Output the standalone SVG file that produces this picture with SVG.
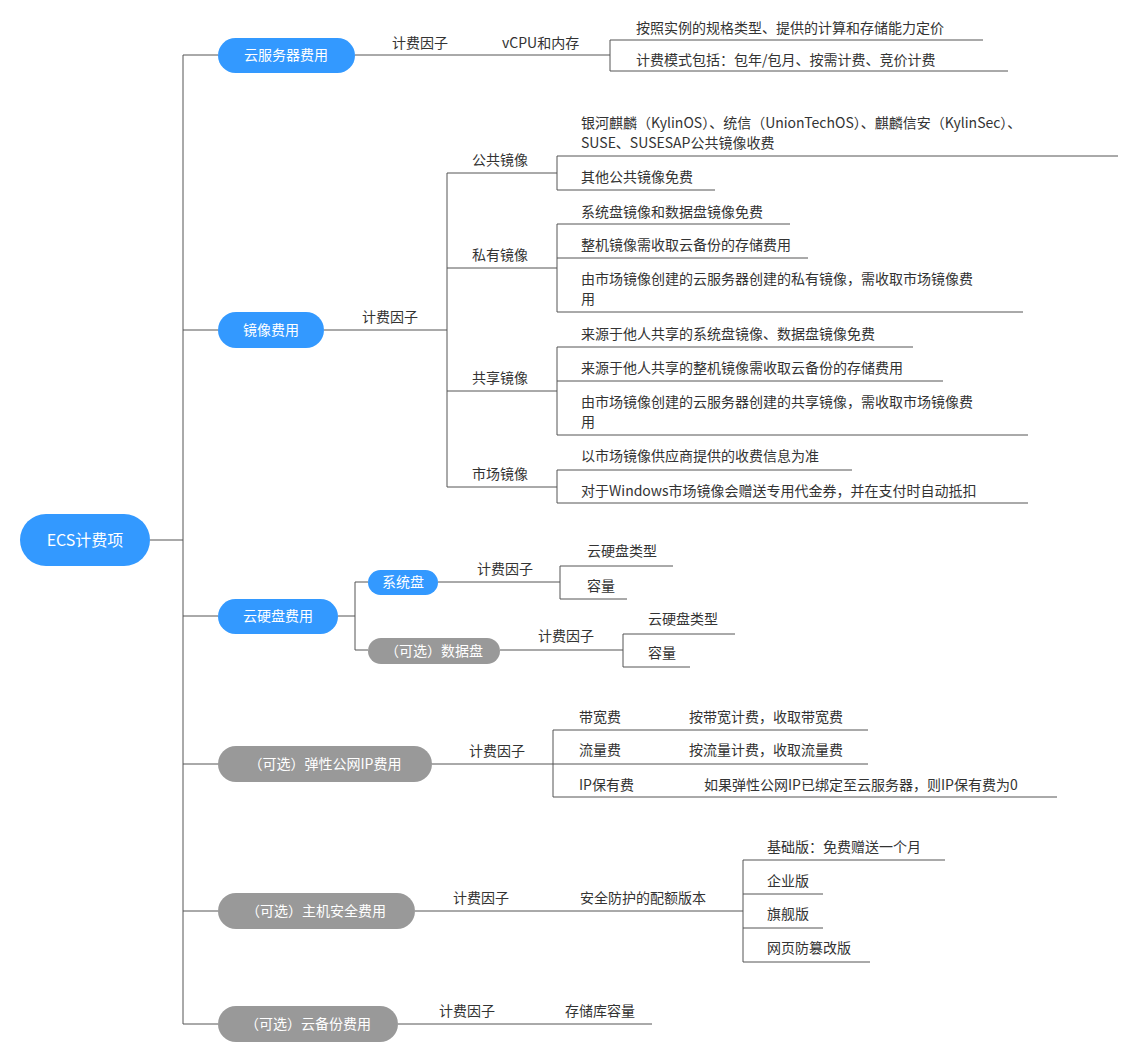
<svg xmlns="http://www.w3.org/2000/svg" width="1140" height="1058" viewBox="0 0 1140 1058">
<style>
text{font-family:"Noto Sans CJK SC","Liberation Sans",sans-serif;font-size:14px;fill:#333}
.p text{fill:#fff;text-anchor:middle}
.b{fill:#3399ff}.g{fill:#999}
.c path{fill:none;stroke:#555;stroke-width:1}
.t{fill:none;stroke:#444;stroke-width:3}
</style>
<rect width="1140" height="1058" fill="#fff"/>
<g class="c">
<path class="t" d="M183 55V1024M150 540H183M183 55H218M183 330H218M183 616H218M183 764H218M183 911H218M183 1024H218"/>
<path d="M355 55H610M610 40V71M610 40H983M610 71H1008"/>
<path d="M324 330H447M447 173V487M447 173H557M447 268H557M447 391H557M447 487H557"/>
<path d="M557 156V190M557 156H1118M557 190H715"/>
<path d="M557 224V312M557 224H790M557 258H808M557 312H1023"/>
<path d="M557 347V435M557 347H913M557 381H943M557 435H1028"/>
<path d="M557 470V503M557 470H852M557 503H1028"/>
<path d="M338 616H355M355 582V650M355 582H368M355 650H368"/>
<path d="M438 582H560M560 566V599M560 566H673M560 599H627"/>
<path d="M500 650H623M623 634V667M623 634H735M623 667H690"/>
<path d="M432 764H553M553 730V797M553 730H868M553 764H868M553 797H1057"/>
<path d="M415 911H743M743 860V962M743 860H945M743 894H823M743 928H823M743 962H870"/>
<path d="M398 1024H652"/>
</g>
<g id="root" class="p"><rect class="b" x="20" y="514" width="130" height="52" rx="26"/><text x="85" y="546" style="font-size:16px">ECS计费项</text></g>
<g id="n1" class="p"><rect class="b" x="218" y="38" width="137" height="35" rx="17.5"/><text x="286" y="60">云服务器费用</text></g>
<g id="n2" class="p"><rect class="b" x="218" y="312" width="106" height="36" rx="18"/><text x="271" y="335">镜像费用</text></g>
<g id="n3" class="p"><rect class="b" x="218" y="599" width="120" height="35" rx="17.5"/><text x="278" y="621">云硬盘费用</text></g>
<g id="n3a" class="p"><rect class="b" x="368" y="570" width="70" height="25" rx="12.5"/><text x="403" y="587">系统盘</text></g>
<g id="n3b" class="p"><rect class="g" x="368" y="638" width="132" height="26" rx="13"/><text x="434" y="656">（可选）数据盘</text></g>
<g id="n4" class="p"><rect class="g" x="218" y="746" width="214" height="36" rx="18"/><text x="325" y="769">（可选）弹性公网IP费用</text></g>
<g id="n5" class="p"><rect class="g" x="218" y="893" width="197" height="36" rx="18"/><text x="316" y="916">（可选）主机安全费用</text></g>
<g id="n6" class="p"><rect class="g" x="218" y="1006" width="180" height="36" rx="18"/><text x="308" y="1029">（可选）云备份费用</text></g>
<g id="labels">
<text x="392" y="48">计费因子</text><text x="502" y="48">vCPU和内存</text>
<text x="636" y="33">按照实例的规格类型、提供的计算和存储能力定价</text>
<text x="636" y="65">计费模式包括：包年/包月、按需计费、竞价计费</text>
<text x="362" y="322">计费因子</text>
<text x="472" y="165">公共镜像</text><text x="472" y="260">私有镜像</text><text x="472" y="383">共享镜像</text><text x="472" y="479">市场镜像</text>
<text x="581" y="128">银河麒麟（KylinOS）、统信（UnionTechOS）、麒麟信安（KylinSec）、</text>
<text x="581" y="148">SUSE、SUSESAP公共镜像收费</text>
<text x="581" y="182">其他公共镜像免费</text>
<text x="581" y="217">系统盘镜像和数据盘镜像免费</text>
<text x="581" y="250">整机镜像需收取云备份的存储费用</text>
<text x="581" y="284">由市场镜像创建的云服务器创建的私有镜像，需收取市场镜像费</text>
<text x="581" y="304">用</text>
<text x="581" y="339">来源于他人共享的系统盘镜像、数据盘镜像免费</text>
<text x="581" y="373">来源于他人共享的整机镜像需收取云备份的存储费用</text>
<text x="581" y="407">由市场镜像创建的云服务器创建的共享镜像，需收取市场镜像费</text>
<text x="581" y="427">用</text>
<text x="581" y="461">以市场镜像供应商提供的收费信息为准</text>
<text x="581" y="496">对于Windows市场镜像会赠送专用代金券，并在支付时自动抵扣</text>
<text x="477" y="574">计费因子</text><text x="587" y="556">云硬盘类型</text><text x="587" y="591">容量</text>
<text x="538" y="641">计费因子</text><text x="648" y="624">云硬盘类型</text><text x="648" y="658">容量</text>
<text x="469" y="756">计费因子</text>
<text x="579" y="722">带宽费</text><text x="689" y="722">按带宽计费，收取带宽费</text>
<text x="579" y="755">流量费</text><text x="689" y="755">按流量计费，收取流量费</text>
<text x="579" y="790">IP保有费</text><text x="704" y="790">如果弹性公网IP已绑定至云服务器，则IP保有费为0</text>
<text x="453" y="903">计费因子</text><text x="580" y="903">安全防护的配额版本</text>
<text x="767" y="852">基础版：免费赠送一个月</text><text x="767" y="886">企业版</text><text x="767" y="919">旗舰版</text><text x="767" y="953">网页防篡改版</text>
<text x="439" y="1016">计费因子</text><text x="565" y="1016">存储库容量</text>
</g>
</svg>
